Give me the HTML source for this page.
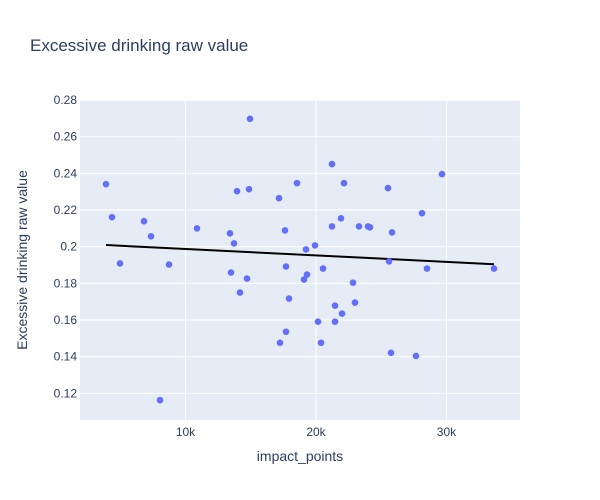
<!DOCTYPE html>
<html><head><meta charset="utf-8">
<style>
html,body{margin:0;padding:0;background:#fff;}
svg{display:block;font-family:"Liberation Sans","DejaVu Sans",sans-serif;}
</style></head>
<body>
<svg id="chart" width="600" height="500" viewBox="0 0 600 500" xmlns="http://www.w3.org/2000/svg">
<rect x="0" y="0" width="600" height="500" fill="#fff"/>
<rect x="80" y="100" width="440" height="320" fill="#e5ecf6"/>
<g id="grid"></g>
<g id="ticks"></g>
<g id="trend"></g>
<g id="points"></g>
<text x="30" y="51" font-size="17" fill="#2a3f5f">Excessive drinking raw value</text>
<text x="300" y="461" font-size="14" fill="#2a3f5f" text-anchor="middle">impact_points</text>
<text x="0" y="0" font-size="14" fill="#2a3f5f" text-anchor="middle" transform="translate(27,260) rotate(-90)">Excessive drinking raw value</text>
</svg>
<script>
const xValues = [14943,3908,13947,14866,17165,18544,4368,6820,7356,10881,13410,13717,17625,4981,8736,13487,14713,14177,17702,17932,17702,17242,8046,21227,29656,22146,25518,28123,21916,21227,23296,23986,24139,25825,19234,19924,25595,20537,28506,33640,19311,19081,22836,22989,21457,21993,20154,21457,20384,25748,27663];
const yValues = [0.2698,0.2341,0.2303,0.2314,0.2265,0.2347,0.2161,0.2139,0.2057,0.2100,0.2073,0.2018,0.2089,0.1909,0.1903,0.1859,0.1826,0.1750,0.1892,0.1717,0.1536,0.1476,0.1163,0.2451,0.2396,0.2347,0.2320,0.2183,0.2155,0.2111,0.2111,0.2111,0.2106,0.2078,0.1985,0.2007,0.1920,0.1881,0.1881,0.1881,0.1848,0.1821,0.1804,0.1695,0.1678,0.1635,0.1591,0.1591,0.1476,0.1421,0.1404];
const xTicks = [10000,20000,30000];
const xTickLabels = ["10k","20k","30k"];
const yTicks = [0.12,0.14,0.16,0.18,0.2,0.22,0.24,0.26,0.28];
const yTickLabels = ["0.12","0.14","0.16","0.18","0.2","0.22","0.24","0.26","0.28"];

const NS = "http://www.w3.org/2000/svg";
const X0 = 80, X1 = 520, Y0 = 100, Y1 = 420;
const xMin = 1916, xMax = 35633, yMin = 0.10545, yMax = 0.28005;
function sx(v){ return X0 + (v - xMin) / (xMax - xMin) * (X1 - X0); }
function sy(v){ return Y1 - (v - yMin) / (yMax - yMin) * (Y1 - Y0); }
function mk(tag, attrs, parent){ const e = document.createElementNS(NS, tag); for (const k in attrs) e.setAttribute(k, attrs[k]); parent.appendChild(e); return e; }

const grid = document.getElementById('grid');
const ticks = document.getElementById('ticks');
xTicks.forEach((t, i) => {
  const l = mk('line', {x1: sx(t), x2: sx(t), y1: Y0, y2: Y1, stroke: '#fff', 'stroke-width': 1}, grid);
  
  
  const tx = mk('text', {x: sx(t), y: 436, 'font-size': 12, fill: '#2a3f5f', 'text-anchor': 'middle'}, ticks);
  tx.textContent = xTickLabels[i];
  
  
});
yTicks.forEach((t, i) => {
  const l = mk('line', {x1: X0, x2: X1, y1: sy(t), y2: sy(t), stroke: '#fff', 'stroke-width': 1}, grid);
  
  
  const tx = mk('text', {x: 77, y: sy(t) + 4, 'font-size': 12, fill: '#2a3f5f', 'text-anchor': 'end'}, ticks);
  tx.textContent = yTickLabels[i];
  
  
});

// OLS trendline
const n = xValues.length;
let mx = 0, my = 0;
for (let i = 0; i < n; i++){ mx += xValues[i]; my += yValues[i]; }
mx /= n; my /= n;
let sxy = 0, sxx = 0;
for (let i = 0; i < n; i++){ sxy += (xValues[i]-mx)*(yValues[i]-my); sxx += (xValues[i]-mx)*(xValues[i]-mx); }
const slope = sxy / sxx, icpt = my - slope * mx;
const xa = Math.min(...xValues), xb = Math.max(...xValues);
const tl = mk('line', {x1: sx(xa), y1: sy(icpt + slope*xa), x2: sx(xb), y2: sy(icpt + slope*xb), stroke: '#000', 'stroke-width': 2}, document.getElementById('trend'));



const pts = document.getElementById('points');
for (let i = 0; i < n; i++){
  const c = mk('circle', {cx: sx(xValues[i]), cy: sy(yValues[i]), r: 3.3, fill: '#636efa'}, pts);
  
  
}
</script>
</body></html>
